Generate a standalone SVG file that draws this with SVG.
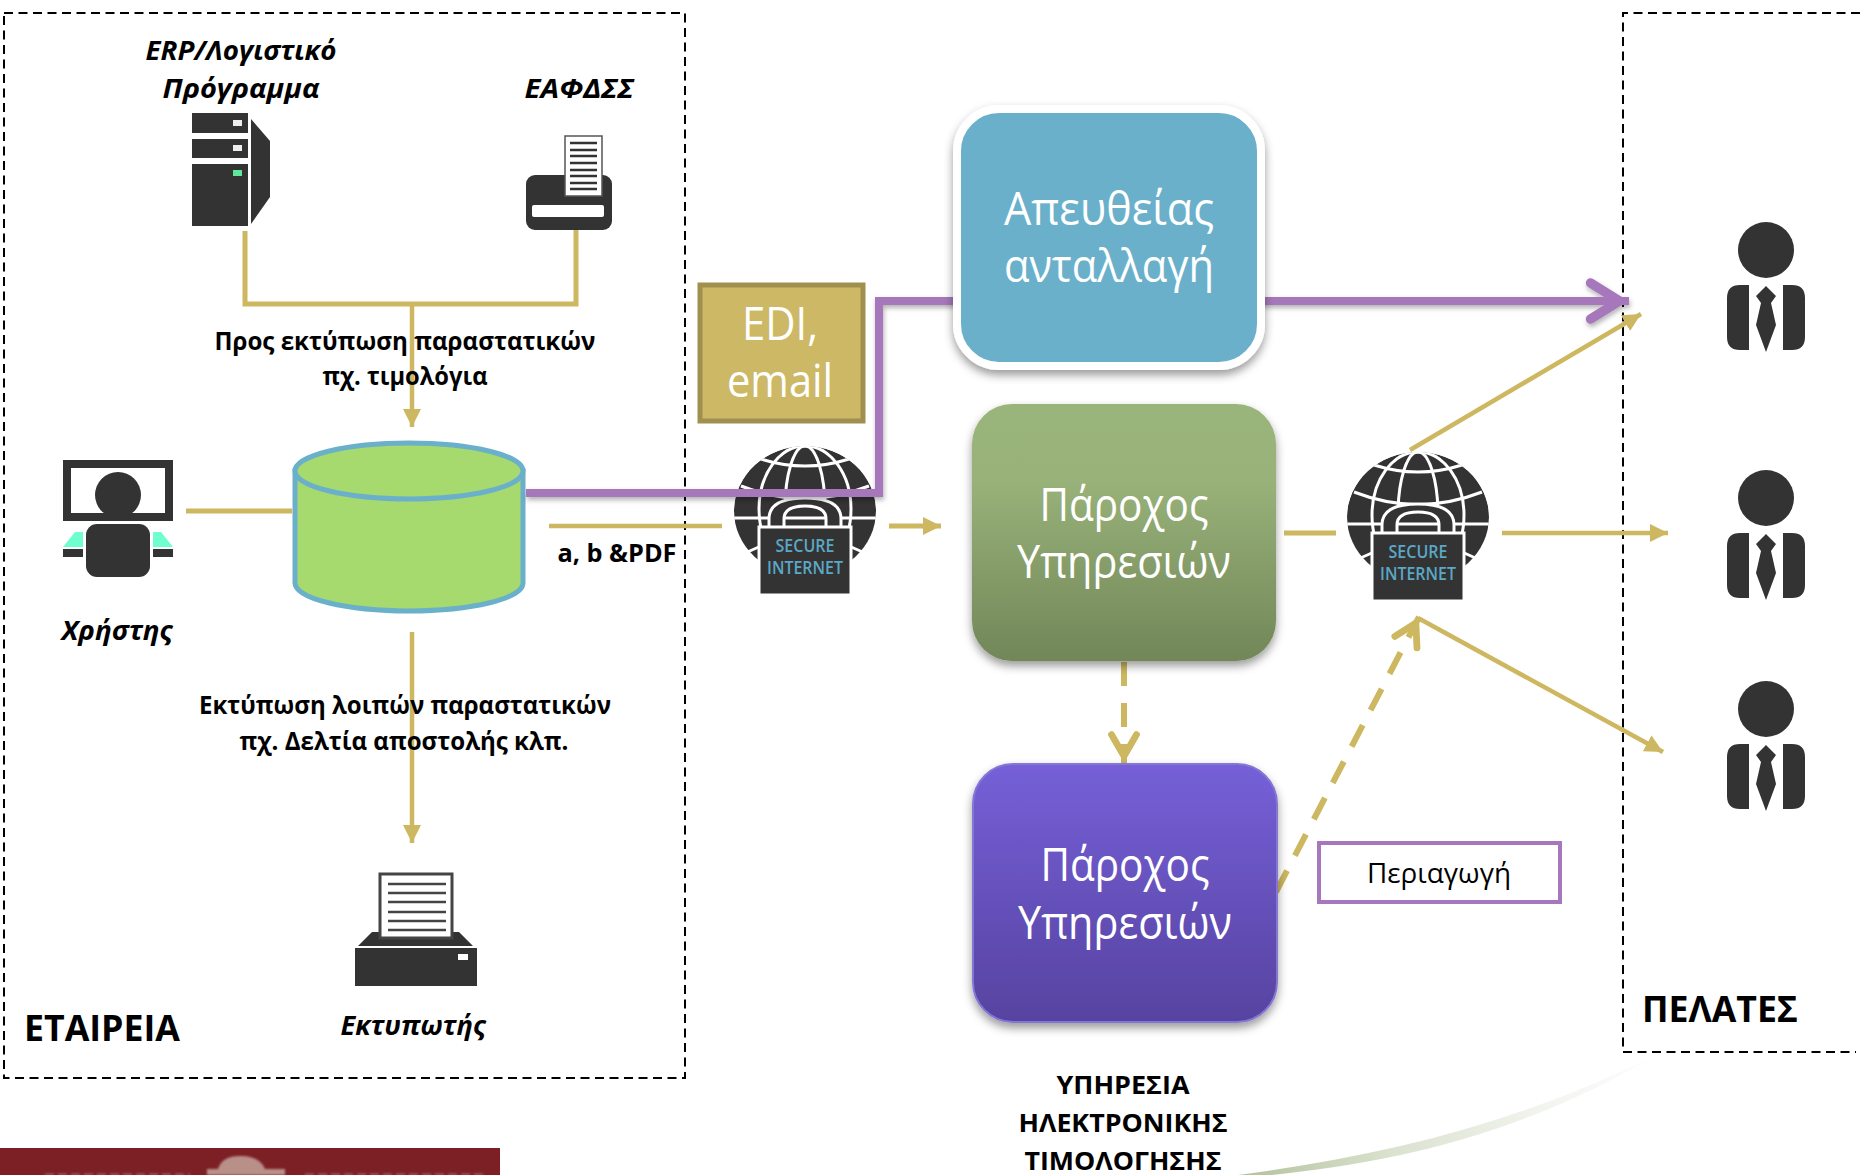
<svg xmlns="http://www.w3.org/2000/svg" width="1860" height="1175" viewBox="0 0 1860 1175">
<style>
text{font-family:"Open Sans","Noto Sans","Liberation Sans",sans-serif;text-anchor:middle;fill:#000}
.b{font-weight:700;font-size:25px}
.bi{font-weight:700;font-style:italic;font-size:27px}
.big{font-weight:700;font-size:36px}
.w{fill:#fff;font-size:45px;font-weight:400}
.s{fill:#5ba8c6;font-size:18px;font-weight:600}
.svc{font-weight:700;font-size:25px}
.dash{fill:none;stroke:#000;stroke-width:2;stroke-dasharray:9 5.5}
.g{fill:none;stroke:#cdb760;stroke-width:5}
.gt{fill:none;stroke:#cdb760;stroke-width:4.5}
.gd{fill:none;stroke:#cdb760;stroke-width:6;stroke-dasharray:24 17}
.p{fill:none;stroke:#a678bb;stroke-width:8}
.d{fill:#333}
.wl{fill:none;stroke:#fff;stroke-width:3}
</style>
<defs>
<marker id="ag" markerUnits="userSpaceOnUse" markerWidth="18" markerHeight="18" refX="16" refY="8" orient="auto" viewBox="0 0 16 16"><path d="M0 0L16 8L0 16Z" fill="#cdb760"/></marker>
<marker id="ao" markerUnits="userSpaceOnUse" markerWidth="34" markerHeight="34" refX="26" refY="13" orient="auto" viewBox="0 0 30 26" overflow="visible"><path d="M1 2L20 13L1 24" fill="none" stroke="#cdb760" stroke-width="6" stroke-linecap="round"/></marker>
<marker id="ap" markerUnits="userSpaceOnUse" markerWidth="48" markerHeight="48" refX="34" refY="18" orient="auto" viewBox="0 0 40 36" overflow="visible"><path d="M2 3L26 18L2 33" fill="none" stroke="#a678bb" stroke-width="8" stroke-linecap="round"/></marker>
<linearGradient id="gr" x1="0" y1="0" x2="0" y2="1"><stop offset="0" stop-color="#9ab57b"/><stop offset=".3" stop-color="#98b279"/><stop offset="1" stop-color="#728658"/></linearGradient>
<linearGradient id="pu" x1="0" y1="0" x2="0" y2="1"><stop offset="0" stop-color="#7560d8"/><stop offset="1" stop-color="#5743a0"/></linearGradient>
<linearGradient id="sw" gradientUnits="userSpaceOnUse" x1="1240" y1="1175" x2="1660" y2="1050"><stop offset="0" stop-color="#b3c29d"/><stop offset=".35" stop-color="#dbe2cf"/><stop offset=".7" stop-color="#f2f4ee"/><stop offset="1" stop-color="#fff"/></linearGradient>
<filter id="sh" x="-10%" y="-10%" width="120%" height="125%"><feDropShadow dx="0" dy="5" stdDeviation="5" flood-color="#000" flood-opacity=".4"/></filter>
<filter id="shl" filterUnits="userSpaceOnUse" x="0" y="0" width="1860" height="1175"><feDropShadow dx="1" dy="3" stdDeviation="2.5" flood-color="#000" flood-opacity=".3"/></filter>
<filter id="bl" x="-20%" y="-20%" width="140%" height="140%"><feGaussianBlur stdDeviation="1.2"/></filter>
<clipPath id="gc"><path d="M-71 0A71 65 0 0 1 71 0Q71 30 52 56H-52Q-71 30 -71 0Z"/></clipPath>
<g id="globe">
<g clip-path="url(#gc)">
<ellipse cx="0" cy="0" rx="71" ry="65" class="d"/>
<path class="wl" d="M-71 7H71M-44 -52Q0 -38 44 -52M-64 -25Q0 0 64 -25M-62 43L-44 35M62 43L44 35"/>
<ellipse class="wl" cx="0" cy="-2" rx="20" ry="63"/>
<ellipse class="wl" cx="0" cy="-2" rx="46" ry="63"/>
<path d="M-36 30V8Q-36 -13 0 -13Q36 -13 36 8V30Z" fill="#333" stroke="#fff" stroke-width="3"/>
<path d="M-21 30V8Q-21 -5 0 -5Q21 -5 21 8V30Z" fill="#333" stroke="#fff" stroke-width="3"/>
<path class="wl" d="M-21 7H21"/>
</g>
<rect x="-46" y="16" width="92" height="68" fill="#333" stroke="#fff" stroke-width="3"/>
</g>
<g id="person">
<circle cx="0" cy="0" r="28" class="d"/>
<path class="d" d="M-17 35V100H-26Q-39 100 -39 87V48Q-39 35 -26 35ZM17 35V100H26Q39 100 39 87V48Q39 35 26 35Z"/>
<path class="d" d="M0 36L10 46L5 53L10 75L0 102L-10 75L-5 53L-10 46Z"/>
</g>
</defs>
<rect width="1860" height="1175" fill="#fff"/>
<g id="background">
<path d="M1238 1175C1390 1155 1530 1120 1665 1050C1530 1132 1400 1162 1272 1175Z" fill="url(#sw)"/>
<rect x="0" y="1148" width="500" height="27" fill="#7d2025"/>
<g filter="url(#bl)">
<path d="M207 1175V1169H218Q222 1156 240 1156Q260 1156 265 1169H285V1175Z" fill="#b98f8a"/>
<path d="M45 1174.500H190M305 1174.500H485" stroke="#c9a5a3" stroke-width="1.500" stroke-dasharray="9 4" opacity=".6"/>
</g>
</g>
<g id="containers">
<rect class="dash" x="4" y="13" width="681" height="1065"/>
<path class="dash" d="M1860 13H1623V1052H1856"/>
</g>
<g id="connectors">
<path class="g" d="M245 231V304H576V229"/>
<path class="gt" d="M412 304V427" marker-end="url(#ag)"/>
<path class="g" d="M186 511H292"/>
<path class="gt" d="M412 632V843" marker-end="url(#ag)"/>
<path class="gt" d="M549 526H722"/>
<path class="g" d="M889 526H941" marker-end="url(#ag)"/>
<path class="g" d="M1284 533H1336"/>
<path class="gt" d="M1502 533H1668" marker-end="url(#ag)"/>
<path class="gt" d="M1410 450L1641 314" marker-end="url(#ag)"/>
<path class="gt" d="M1418 618L1663 752" marker-end="url(#ag)"/>
<path class="gd" d="M1124 662V763" marker-end="url(#ao)"/>
<path class="gd" d="M1276 892L1419 617" marker-end="url(#ao)"/>
</g>
<g id="erp">
<text class="bi" x="241" y="60" textLength="191" lengthAdjust="spacingAndGlyphs">ERP/Λογιστικό</text>
<text class="bi" x="241" y="98" textLength="157" lengthAdjust="spacingAndGlyphs">Πρόγραμμα</text>
<rect class="d" x="192" y="113" width="56" height="20"/><rect class="d" x="192" y="139" width="56" height="19"/><rect class="d" x="192" y="164" width="56" height="62"/>
<path class="d" d="M251 119L270 141V197L251 224Z"/>
<rect x="233" y="120" width="9" height="6" fill="#eee"/><rect x="233" y="145" width="9" height="6" fill="#eee"/><rect x="233" y="170" width="9" height="6" fill="#5fe89a"/>
</g>
<g id="eafdss">
<text class="bi" x="579" y="98" textLength="109" lengthAdjust="spacingAndGlyphs">ΕΑΦΔΣΣ</text>
<rect class="d" x="526" y="175" width="86" height="55" rx="9"/>
<rect x="565" y="136" width="37" height="60" fill="#fff" stroke="#555" stroke-width="1.5"/>
<path d="M570 143H597M570 150H597M570 156H597M570 163H597M570 170H597M570 176H597M570 183H597M570 189H597" stroke="#333" stroke-width="2.5"/>
<rect x="532" y="205" width="72" height="12" rx="2" fill="#fff"/>
</g>
<g id="labels">
<text class="b" x="405" y="350" textLength="381" lengthAdjust="spacingAndGlyphs">Προς εκτύπωση παραστατικών</text>
<text class="b" x="405" y="385" textLength="165" lengthAdjust="spacingAndGlyphs">πχ. τιμολόγια</text>
<text class="b" x="617" y="562" textLength="119" lengthAdjust="spacingAndGlyphs">a, b &amp;PDF</text>
<text class="b" x="405" y="714" textLength="412" lengthAdjust="spacingAndGlyphs">Εκτύπωση λοιπών παραστατικών</text>
<text class="b" x="404" y="750" textLength="329" lengthAdjust="spacingAndGlyphs">πχ. Δελτία αποστολής κλπ.</text>
<text class="big" x="102" y="1041" textLength="156" lengthAdjust="spacingAndGlyphs">ΕΤΑΙΡΕΙΑ</text>
<text class="big" x="1720" y="1022" textLength="156" lengthAdjust="spacingAndGlyphs">ΠΕΛΑΤΕΣ</text>
<text class="svc" x="1123" y="1094" textLength="133" lengthAdjust="spacingAndGlyphs">ΥΠΗΡΕΣΙΑ</text>
<text class="svc" x="1123" y="1132" textLength="209" lengthAdjust="spacingAndGlyphs">ΗΛΕΚΤΡΟΝΙΚΗΣ</text>
<text class="svc" x="1123" y="1170" textLength="197" lengthAdjust="spacingAndGlyphs">ΤΙΜΟΛΟΓΗΣΗΣ</text>
</g>
<g id="user">
<rect x="67" y="464" width="102" height="53" fill="#fff" stroke="#333" stroke-width="8"/>
<ellipse class="d" cx="118" cy="495" rx="23" ry="23"/>
<path fill="#6fffcf" d="M63 547L75 532H83V547ZM173 547L161 532H153V547Z"/>
<rect class="d" x="63" y="549" width="20" height="8"/><rect class="d" x="153" y="549" width="20" height="8"/>
<rect class="d" x="86" y="524" width="64" height="53" rx="11"/>
<text class="bi" x="117" y="640" textLength="111" lengthAdjust="spacingAndGlyphs">Χρήστης</text>
</g>
<g id="database">
<path d="M295 471V583A114 28 0 0 0 523 583V471Z" fill="#a6d96e" stroke="#6bb0cb" stroke-width="5"/>
<ellipse cx="409" cy="471" rx="114" ry="28" fill="#a6d96e" stroke="#6bb0cb" stroke-width="5"/>
</g>
<g id="printer">
<path class="d" d="M358 946L372 932H459L473 946Z"/>
<rect class="d" x="355" y="948" width="122" height="38"/>
<rect x="380" y="874" width="72" height="64" fill="#fff" stroke="#444" stroke-width="3"/>
<path d="M388 884H446M388 893H446M388 902H446M388 912H446M388 921H446M388 930H446" stroke="#444" stroke-width="2.5"/>
<rect x="458" y="954" width="10" height="6" fill="#fff"/>
<text class="bi" x="413" y="1035" textLength="145" lengthAdjust="spacingAndGlyphs">Εκτυπωτής</text>
</g>
<g id="secure1">
<use href="#globe" x="805" y="511"/>
<text class="s" x="805" y="552" textLength="59" lengthAdjust="spacingAndGlyphs">SECURE</text>
<text class="s" x="805" y="574" textLength="76" lengthAdjust="spacingAndGlyphs">INTERNET</text>
</g>
<g id="secure2">
<use href="#globe" x="1418" y="517"/>
<text class="s" x="1418" y="558" textLength="59" lengthAdjust="spacingAndGlyphs">SECURE</text>
<text class="s" x="1418" y="580" textLength="76" lengthAdjust="spacingAndGlyphs">INTERNET</text>
</g>
<g id="edi">
<rect x="700" y="285" width="163" height="136" fill="#cdb866" stroke="#a18f50" stroke-width="5"/>
<text class="w" x="780" y="340" textLength="76" lengthAdjust="spacingAndGlyphs">EDI,</text>
<text class="w" x="780" y="397" textLength="106" lengthAdjust="spacingAndGlyphs">email</text>
</g>
<g id="purple-route">
<path class="p" filter="url(#shl)" d="M526 493H879V301H960"/>
<path class="p" filter="url(#shl)" d="M1260 301H1629" marker-end="url(#ap)"/>
</g>
<g id="direct">
<rect x="957" y="109" width="304" height="257" rx="42" fill="#6bb0cb" stroke="#fff" stroke-width="8" filter="url(#sh)"/>
<text class="w" x="1109" y="225" textLength="210" lengthAdjust="spacingAndGlyphs">Απευθείας</text>
<text class="w" x="1109" y="282" textLength="210" lengthAdjust="spacingAndGlyphs">ανταλλαγή</text>
</g>
<g id="provider1">
<rect x="972" y="404" width="304" height="257" rx="40" fill="url(#gr)" filter="url(#sh)"/>
<text class="w" x="1124" y="521" textLength="169" lengthAdjust="spacingAndGlyphs">Πάροχος</text>
<text class="w" x="1124" y="578" textLength="214" lengthAdjust="spacingAndGlyphs">Υπηρεσιών</text>
</g>
<g id="provider2">
<rect x="973" y="764" width="304" height="258" rx="40" fill="url(#pu)" stroke="#8476d4" stroke-width="2" filter="url(#sh)"/>
<text class="w" x="1125" y="881" textLength="169" lengthAdjust="spacingAndGlyphs">Πάροχος</text>
<text class="w" x="1125" y="939" textLength="214" lengthAdjust="spacingAndGlyphs">Υπηρεσιών</text>
</g>
<g id="roaming">
<rect x="1319" y="843" width="241" height="59" fill="#fff" stroke="#a678bb" stroke-width="4"/>
<text x="1439" y="883" font-size="27" textLength="144" lengthAdjust="spacingAndGlyphs">Περιαγωγή</text>
</g>
<g id="customer1"><use href="#person" x="1766" y="250"/></g>
<g id="customer2"><use href="#person" x="1766" y="498"/></g>
<g id="customer3"><use href="#person" x="1766" y="709"/></g>
</svg>
